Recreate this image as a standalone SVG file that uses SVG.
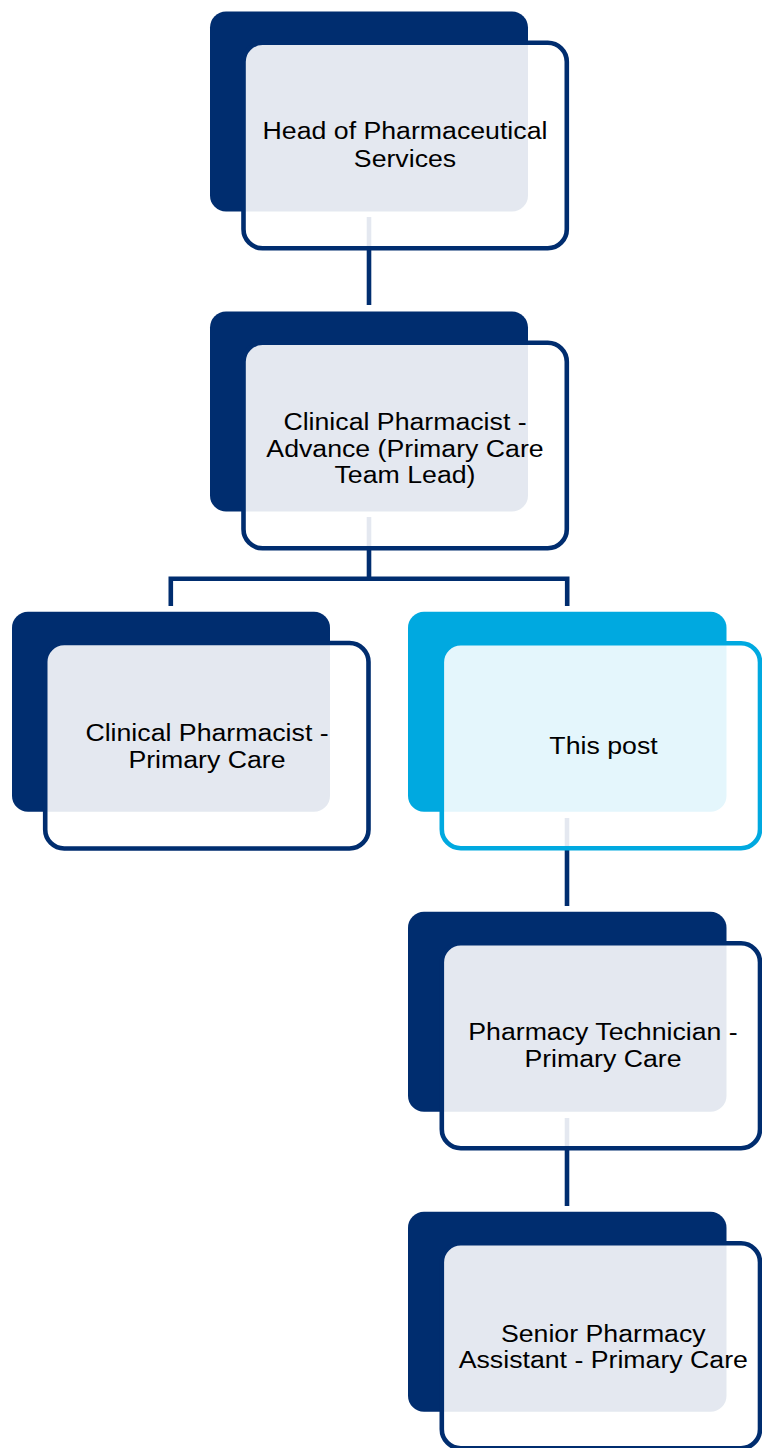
<svg xmlns="http://www.w3.org/2000/svg" width="762" height="1448" viewBox="0 0 762 1448">
<style>
.bg{fill:#fff}
.conn{fill:none;stroke:#002d6f;stroke-width:4.6;stroke-linejoin:miter}
.back{fill:#002d6f}
.back.hl{fill:#00a9e0}
.front{fill:#fff;fill-opacity:0.895;stroke:#002d6f;stroke-width:4.6}
.front.hl{stroke:#00a9e0}
.lbl{font-family:"Liberation Sans",Arial,sans-serif;font-size:24.5px;fill:#000;text-anchor:middle}
</style>
<rect class="bg" x="0" y="0" width="762" height="1448"/>
<g id="connectors">
<path class="conn" d="M369 217V305"/>
<path class="conn" d="M369 517V578.8H567.2V606"/>
<path class="conn" d="M369 578.8H170.8V606"/>
<path class="conn" d="M567 818V906"/>
<path class="conn" d="M567 1118V1206"/>
</g>
<g id="node-head">
<rect class="back" x="210" y="11.5" width="318" height="200" rx="16"/>
<rect class="front" x="243.5" y="42.8" width="323.3" height="205.5" rx="19"/>
<text class="lbl" transform="translate(405 0) scale(1.09 1)"><tspan x="0" y="139.3">Head of Pharmaceutical</tspan><tspan x="0" y="166.7">Services</tspan></text>
</g>
<g id="node-advance">
<rect class="back" x="210" y="311.5" width="318" height="200" rx="16"/>
<rect class="front" x="243.5" y="342.8" width="323.3" height="205.5" rx="19"/>
<text class="lbl" transform="translate(405 0) scale(1.09 1)"><tspan x="0" y="429.8">Clinical Pharmacist -</tspan><tspan x="0" y="456.7">Advance (Primary Care</tspan><tspan x="0" y="483.3">Team Lead)</tspan></text>
</g>
<g id="node-clinical">
<rect class="back" x="12" y="611.7" width="318" height="200" rx="16"/>
<rect class="front" x="45.2" y="643" width="323.3" height="205.5" rx="19"/>
<text class="lbl" transform="translate(207 0) scale(1.09 1)"><tspan x="0" y="741">Clinical Pharmacist -</tspan><tspan x="0" y="767.7">Primary Care</tspan></text>
</g>
<g id="node-this-post">
<rect class="back hl" x="408" y="611.7" width="318.5" height="200" rx="16"/>
<rect class="front hl" x="441.8" y="643.3" width="318.2" height="205" rx="19"/>
<text class="lbl" transform="translate(603.5 0) scale(1.09 1)"><tspan x="0" y="754.3">This post</tspan></text>
</g>
<g id="node-technician">
<rect class="back" x="408" y="911.7" width="318.5" height="200" rx="16"/>
<rect class="front" x="441.8" y="943.3" width="318.2" height="205" rx="19"/>
<text class="lbl" transform="translate(603 0) scale(1.09 1)"><tspan x="0" y="1039.6">Pharmacy Technician -</tspan><tspan x="0" y="1066.8">Primary Care</tspan></text>
</g>
<g id="node-assistant">
<rect class="back" x="408" y="1211.7" width="318.5" height="200" rx="16"/>
<rect class="front" x="441.8" y="1243.3" width="318.2" height="205" rx="19"/>
<text class="lbl" transform="translate(603.3 0) scale(1.09 1)"><tspan x="0" y="1341.7">Senior Pharmacy</tspan><tspan x="0" y="1368">Assistant - Primary Care</tspan></text>
</g>
</svg>
